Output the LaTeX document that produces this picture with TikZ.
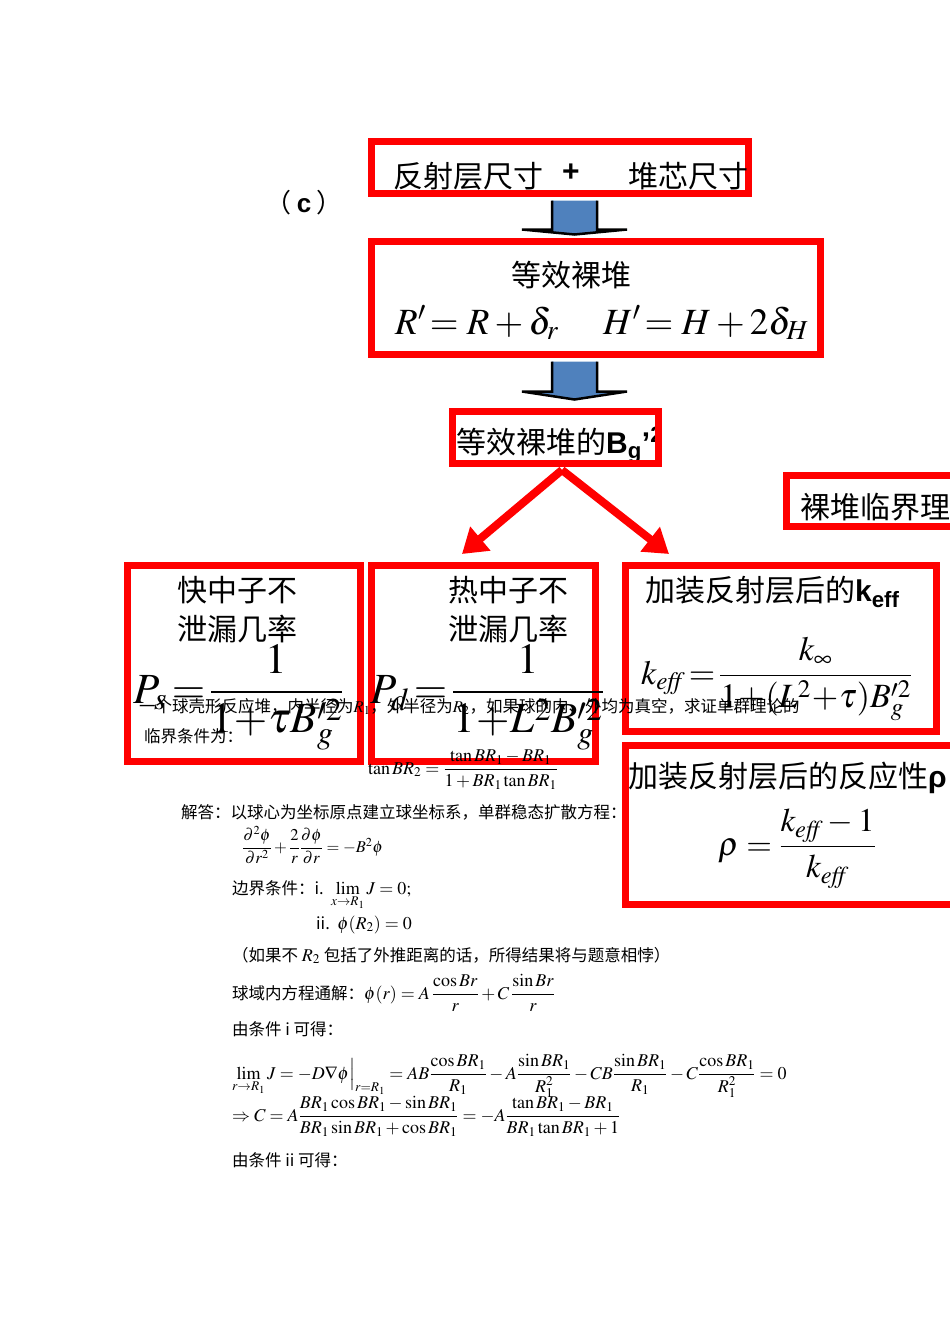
\documentclass[tikz,border=0pt]{standalone}
\usepackage{amsmath}
\IfFileExists{mathptmx.sty}{\usepackage{mathptmx}}{\usepackage{lmodern}}
\usepackage{fontspec}
\setmainfont{Liberation Serif}
\newfontfamily\cjk{Noto Sans CJK SC}
\newfontfamily\sansfont{Liberation Sans}
\usetikzlibrary{arrows.meta,positioning,calc}
\definecolor{boxred}{RGB}{255,0,0}
\definecolor{arrowblue}{RGB}{79,129,189}
\newcommand{\eff}{\mathit{eff}}

\begin{document}
\begin{tikzpicture}[x=1pt, y=-1pt,
    redbox/.style={draw=boxred, line width=7pt, inner sep=0pt},
    boxtext/.style={inner sep=0pt, font=\fontsize{30}{36}\selectfont\cjk},
    bigmath/.style={inner sep=0pt, anchor=base west},
    doctext/.style={inner sep=0pt, anchor=base west, font=\fontsize{16.5}{20}\selectfont\cjk},
    docmath/.style={doctext, font=\fontsize{18}{20}\selectfont},
    blockarrow/.style={fill=arrowblue, draw=black, line width=2.5pt, line join=miter},
    splitarrow/.style={draw=boxred, line width=8pt, -{Triangle[length=24pt, width=30pt]}}
  ]
    \useasboundingbox (0,0) rectangle (950,1344);

    % Kuang
    \node[redbox, minimum width=377pt, minimum height=52pt] (box1) at (560,167.5) {};
    \node[redbox, minimum width=449pt, minimum height=113pt] (box2) at (596,298) {};
    \node[redbox, minimum width=223.5pt, minimum height=51pt] (critbox) at (898.25,501) {};
    \node[redbox, minimum width=233pt, minimum height=196pt] (fastbox) at (244,663.5) {};
    \node[redbox, minimum width=224pt, minimum height=196pt] (thermbox) at (483.5,663.5) {};
    \node[redbox, minimum width=311pt, minimum height=166pt] (keffbox) at (781,648.5) {};
    \node[redbox, minimum width=374.5pt, minimum height=159pt] (rhobox) at (812.75,825) {};

    % Shang
    \node[boxtext] (labelc) at (304,203) {\fontsize{26}{26}\selectfont （\hspace{5pt}{\sansfont\bfseries c}\hspace{5pt}）};
    \node[boxtext] (refl) at (468,176) {反射层尺寸};
    \node[boxtext, font=\fontsize{30}{36}\selectfont\sansfont\bfseries] (plus) at (571,173) {+};
    \node[boxtext] (core) at (688,176) {堆芯尺寸};
    \node[boxtext] (bare) at (571,275) {等效裸堆};
    \node[bigmath, font=\fontsize{37}{40}\selectfont] (Reff) at (395,334) {$R'\!=R+\delta_r$};
    \node[bigmath, font=\fontsize{37}{40}\selectfont] (Heff) at (603,334) {$H'\!=H+2\delta_H$};
    \node[boxtext, anchor=west] (bgtext) at (456,445) {等效裸堆的{\sansfont\bfseries B\textsubscript{g}’\textsuperscript{2}}};
    \node[redbox, minimum width=206pt, minimum height=52pt] (box3) at (555.5,437.5) {};
    \node[boxtext, anchor=west] (crit) at (800,507) {裸堆临界理};

    % Xia
    \node[boxtext] (fast1) at (237,590) {快中子不};
    \node[boxtext] (fast2) at (237,629) {泄漏几率};
    \node[bigmath, font=\fontsize{43}{48}\selectfont] (Ps) at (133,703) {$P_s\!=\!\dfrac{1}{1\!+\!\tau B^{\prime 2}_g}$};
    \node[boxtext] (therm1) at (508,590) {热中子不};
    \node[boxtext] (therm2) at (508,629) {泄漏几率};
    \node[bigmath, font=\fontsize{43}{48}\selectfont] (Pd) at (370,703) {$P_d\!=\!\dfrac{1}{1\!+\!L^2B^{\prime 2}_g}$};
    \node[boxtext, anchor=west] (kefftext) at (645,592) {加装反射层后的{\sansfont\bfseries k\textsubscript{eff}}};
    \node[bigmath, font=\fontsize{34}{40}\selectfont] (keq) at (641,684) {$k_{\eff}\!=\!\dfrac{k_\infty}{1\!+\!(L^2\!+\!\tau)B^{\prime 2}_g}$};
    \node[boxtext, anchor=west] (rhotext) at (628,778) {加装反射层后的反应性{\sansfont\bfseries ρ}};
    \node[bigmath, font=\fontsize{33}{36}\selectfont] (rhoeq) at (718,855) {$\rho=\dfrac{k_{\eff}-1}{k_{\eff}}$};

    % Jiantou
    \coordinate (a1top) at ($(box1.south)+(14.5,3.5)$);
    \coordinate (a1tip) at ($(box2.north)+(-21.5,-3.5)$);
    \filldraw[blockarrow] ($(a1top)+(-22.5,0)$) -- ($(a1top)+(-22.5,29)$) -- ($(a1top)+(-52.5,29)$) -- (a1tip)
      -- ($(a1top)+(52.5,29)$) -- ($(a1top)+(22.5,29)$) -- ($(a1top)+(22.5,0)$);
    \coordinate (a2top) at ($(box2.south)+(-21.5,3.5)$);
    \coordinate (a2tip) at ($(box3.north)+(19,-8.5)$);
    \filldraw[blockarrow] ($(a2top)+(-22.5,0)$) -- ($(a2top)+(-22.5,30)$) -- ($(a2top)+(-52.5,30)$) -- (a2tip)
      -- ($(a2top)+(52.5,30)$) -- ($(a2top)+(22.5,30)$) -- ($(a2top)+(22.5,0)$);
    \coordinate (fork) at ($(box3.south)+(6.5,3)$);
    \coordinate (tipL) at (462,554);
    \coordinate (tipR) at (669,554);
    \draw[splitarrow] (fork) -- (tipL);
    \draw[splitarrow] (fork) -- (tipR);

    % Wenzi
    \node[doctext] (q1) at (139,712) {一个球壳形反应堆，内半径为$R_1$，外半径为$R_2$，如果球的内、外均为真空，求证单群理论的};
    \node[doctext] (q2) at (144,742) {临界条件为：};
    \node[docmath] (q3) at (368,774) {$\tan BR_2=\dfrac{\tan BR_1-BR_1}{1+BR_1\tan BR_1}$};
    \node[doctext] (a1) at (181,818) {解答：以球心为坐标原点建立球坐标系，单群稳态扩散方程：};
    \node[doctext] (a2) at (242,852) {$\dfrac{\partial^2\phi}{\partial r^2}+\dfrac{2}{r}\dfrac{\partial\phi}{\partial r}=-B^2\phi$};
    \node[doctext] (a3) at (232,894) {边界条件：i.\ \ {\fontsize{18}{20}\selectfont$\lim\limits_{x\to R_1}J=0;$}};
    \node[doctext] (a4) at (316,929) {ii.\ \ {\fontsize{18}{20}\selectfont$\phi(R_2)=0$}};
    \node[doctext] (a5) at (232,961) {（如果不 {\fontsize{18}{20}\selectfont$R_2$} 包括了外推距离的话，所得结果将与题意相悖）};
    \node[doctext] (a6) at (232,999) {球域内方程通解：{\fontsize{18}{20}\selectfont$\phi(r)=A\,\dfrac{\cos Br}{r}+C\,\dfrac{\sin Br}{r}$}};
    \node[doctext] (a7) at (232,1035) {由条件 i 可得：};
    \node[docmath] (a8) at (232,1079) {$\lim\limits_{r\to R_1}J=-D\nabla\phi\Big|_{r=R_1}=AB\dfrac{\cos BR_1}{R_1}-A\dfrac{\sin BR_1}{R_1^2}-CB\dfrac{\sin BR_1}{R_1}-C\dfrac{\cos BR_1}{R_1^2}=0$};
    \node[docmath] (a9) at (232,1121) {$\Rightarrow C=A\dfrac{BR_1\cos BR_1-\sin BR_1}{BR_1\sin BR_1+\cos BR_1}=-A\dfrac{\tan BR_1-BR_1}{BR_1\tan BR_1+1}$};
    \node[doctext] (a10) at (232,1166) {由条件 ii 可得：};
  \end{tikzpicture}
\end{document}
